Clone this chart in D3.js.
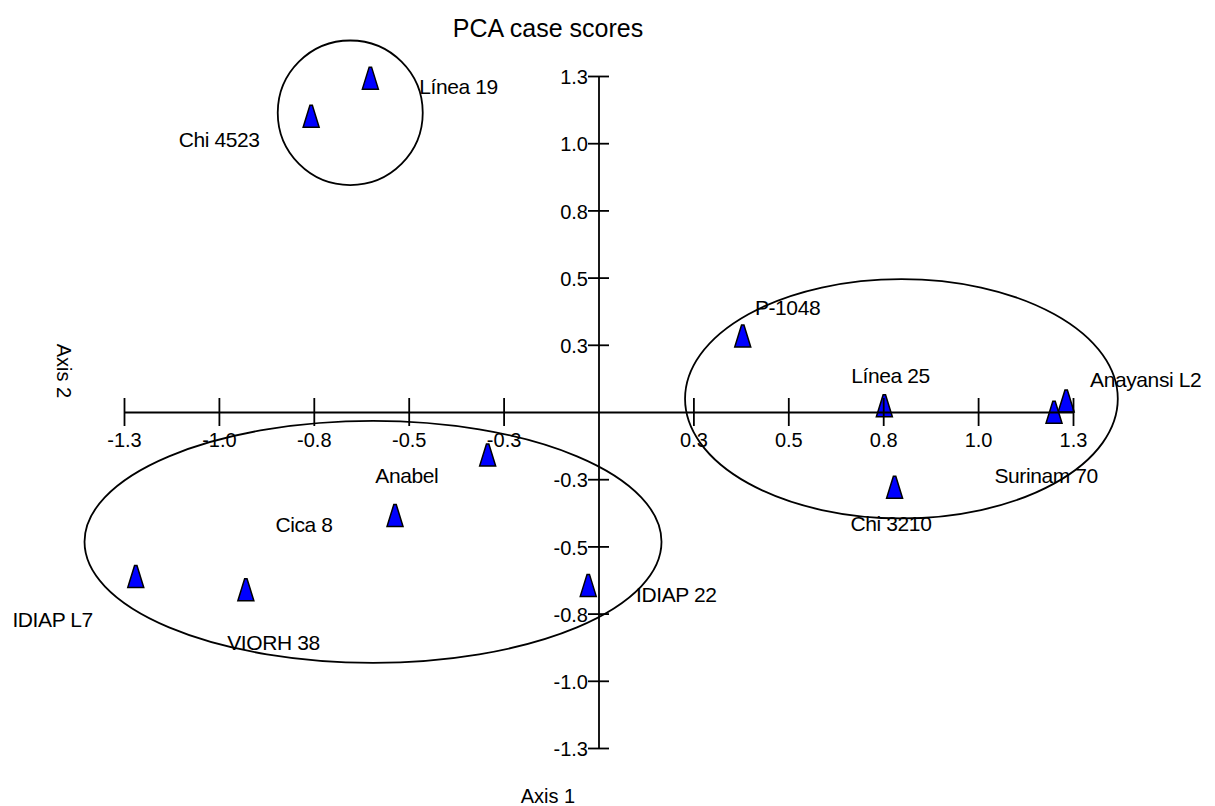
<!DOCTYPE html>
<html>
<head>
<meta charset="utf-8">
<script src="https://cdnjs.cloudflare.com/ajax/libs/d3/7.8.5/d3.min.js"></script>
<style>
  body { margin: 0; background: #fff; }
  svg text { font-family: "Liberation Sans", Arial, sans-serif; fill: #000; }
</style>
</head>
<body>
<svg id="pca" width="1215" height="806"></svg>
<script>
// case names and their scores on axis 1 / axis 2
var cases = ['Línea 19', 'Chi 4523', 'P-1048', 'Línea 25', 'Anayansi L2', 'Surinam 70',
             'Chi 3210', 'Anabel', 'Cica 8', 'IDIAP 22', 'IDIAP L7', 'VIORH 38'];
var axis1 = [-0.601, -0.757, 0.380, 0.753, 1.232, 1.200, 0.780, -0.292, -0.536, -0.027, -1.219, -0.929];
var axis2 = [1.242, 1.100, 0.283, 0.023, 0.041, -0.001, -0.280, -0.160, -0.385, -0.645, -0.612, -0.661];

// where each name was put (axis units, left edge / baseline)
var labelX = [-0.472, -1.106, 0.412, 0.666, 1.295, 1.043, 0.664, -0.588, -0.851, 0.099, -1.544, -0.978];
var labelY = [1.182, 0.986, 0.361, 0.107, 0.094, -0.265, -0.442, -0.263, -0.445, -0.705, -0.798, -0.887];

// group outlines (axis units)
var groupCx = [-0.654, 0.798, -0.594];
var groupCy = [1.113, 0.049, -0.483];
var groupRx = [0.191, 0.570, 0.760];
var groupRy = [0.269, 0.445, 0.450];

var tickValues = [-1.25, -1.0, -0.75, -0.5, -0.25, 0.25, 0.5, 0.75, 1.0, 1.25];
var tickLabels = ['-1.3', '-1.0', '-0.8', '-0.5', '-0.3', '0.3', '0.5', '0.8', '1.0', '1.3'];

var svg = d3.select('#pca');

var x = d3.scaleLinear().domain([-1.25, 1.25]).range([124, 1073]);
var y = d3.scaleLinear().domain([-1.25, 1.25]).range([748, 76]);

var pts = cases.map(function(c, i) {
  return { name: c, a1: axis1[i], a2: axis2[i], lx: labelX[i], ly: labelY[i] };
});

// triangles first, axes are drawn over them
svg.append('g')
  .selectAll('path')
  .data(pts)
  .enter().append('path')
    .attr('d', 'M-1.2,-11L1.2,-11L8,11L-8,11Z')
    .attr('transform', function(d) { return 'translate(' + x(d.a1) + ',' + y(d.a2) + ')'; })
    .attr('fill', '#0000ff')
    .attr('stroke', '#000')
    .attr('stroke-width', 1.5)
    .attr('stroke-linejoin', 'miter');

// axis 1 (horizontal, crossing at 0)
var xAxis = svg.append('g')
  .attr('transform', 'translate(0,' + y(0) + ')')
  .call(d3.axisBottom(x)
    .tickValues(tickValues)
    .tickFormat(function(d, i) { return tickLabels[i]; })
    .tickSize(14).tickSizeOuter(0).tickPadding(7));
xAxis.selectAll('.tick line').attr('y1', -14);
xAxis.selectAll('text').attr('font-size', 20).attr('font-family', null);

// axis 2 (vertical, crossing at 0)
var yAxis = svg.append('g')
  .attr('transform', 'translate(' + x(0) + ',0)')
  .call(d3.axisLeft(y)
    .tickValues(tickValues)
    .tickFormat(function(d, i) { return tickLabels[i]; })
    .tickSize(10.5).tickSizeOuter(0).tickPadding(0));
yAxis.selectAll('.tick line').attr('x1', 10.5);
yAxis.selectAll('text').attr('font-size', 20).attr('font-family', null).attr('dy', '0.38em');

svg.selectAll('.domain, .tick line').attr('stroke', '#000').attr('stroke-width', 1.8);

// case names
svg.append('g')
  .selectAll('text')
  .data(pts)
  .enter().append('text')
    .attr('x', function(d) { return x(d.lx); })
    .attr('y', function(d) { return y(d.ly); })
    .attr('font-size', 21)
    .attr('letter-spacing', -0.4)
    .text(function(d) { return d.name; });

// group ellipses
svg.append('g')
  .selectAll('ellipse')
  .data(groupCx)
  .enter().append('ellipse')
    .attr('cx', function(d) { return x(d); })
    .attr('cy', function(d, i) { return y(groupCy[i]); })
    .attr('rx', function(d, i) { return x(groupRx[i]) - x(0); })
    .attr('ry', function(d, i) { return y(0) - y(groupRy[i]); })
    .attr('fill', 'none')
    .attr('stroke', '#000')
    .attr('stroke-width', 1.8);

// titles
svg.append('text')
  .attr('x', 548).attr('y', 37)
  .attr('text-anchor', 'middle')
  .attr('font-size', 25)
  .text('PCA case scores');

svg.append('text')
  .attr('x', 548).attr('y', 803)
  .attr('text-anchor', 'middle')
  .attr('font-size', 20)
  .text('Axis 1');

svg.append('text')
  .attr('transform', 'translate(57,371) rotate(90)')
  .attr('text-anchor', 'middle')
  .attr('font-size', 20)
  .text('Axis 2');
</script>
</body>
</html>
